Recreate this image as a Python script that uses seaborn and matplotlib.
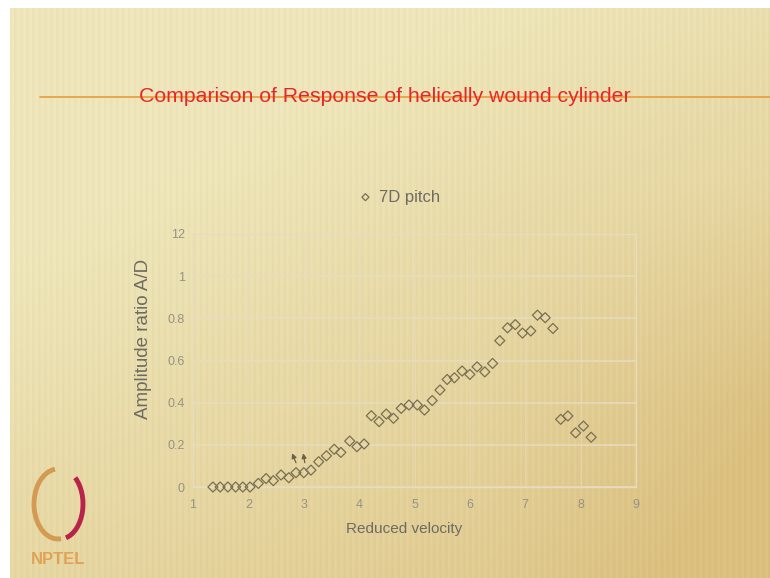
import numpy as np
import pandas as pd
import matplotlib
matplotlib.use("Agg")
import matplotlib.pyplot as plt
from matplotlib.patches import Arc
import seaborn as sns

# ---- data ----
reduced_velocity = [1.36, 1.49, 1.63, 1.77, 1.90, 2.03, 2.18, 2.32, 2.45, 2.59,
                    2.73, 2.86, 3.00, 3.13, 3.27, 3.41, 3.55, 3.67, 3.83, 3.96,
                    4.09, 4.22, 4.36, 4.49, 4.62, 4.76, 4.90, 5.05, 5.18, 5.32,
                    5.46, 5.59, 5.72, 5.86, 6.00, 6.13, 6.27, 6.41, 6.54, 6.68,
                    6.82, 6.95, 7.10, 7.22, 7.36, 7.50, 7.64, 7.77, 7.91, 8.05,
                    8.19]
amplitude_ratio = [0.0, 0.0, 0.0, 0.0, 0.0, 0.0, 0.017, 0.04, 0.03, 0.057,
                   0.044, 0.068, 0.068, 0.08, 0.12, 0.148, 0.179, 0.164, 0.218, 0.191,
                   0.204, 0.338, 0.31, 0.346, 0.326, 0.373, 0.389, 0.389, 0.365, 0.41,
                   0.46, 0.51, 0.518, 0.55, 0.534, 0.57, 0.546, 0.586, 0.694, 0.755,
                   0.77, 0.73, 0.74, 0.815, 0.803, 0.752, 0.321, 0.337, 0.257, 0.289,
                   0.236]
series_name = "7D pitch"
x_ticks = [1, 2, 3, 4, 5, 6, 7, 8, 9]
y_ticks = [0, 0.2, 0.4, 0.6, 0.8, 1.0, 1.2]
y_tick_labels = ["0", "0.2", "0.4", "0.6", "0.8", "1", "12"]
# small arrow annotations: (tail_x, tail_y, head_x, head_y)
arrows = [(2.86, 0.115, 2.79, 0.16), (3.02, 0.115, 2.99, 0.16)]

df = pd.DataFrame({"Reduced velocity": reduced_velocity,
                   "Amplitude ratio A/D": amplitude_ratio,
                   "series": series_name})

sns.set_theme(style="white")
plt.rcParams["font.family"] = ["Liberation Sans", "DejaVu Sans"]

W, H = 770, 578
fig = plt.figure(figsize=(W / 100, H / 100), dpi=100, facecolor="white")

# ---- slide background (gradient with faint vertical stripes) ----
bg = fig.add_axes([10 / W, 0, 1 - 10 / W, 1 - 8 / H], zorder=-10)
ny, nx = 290, 380
yy, xx = np.mgrid[0:1:ny * 1j, 0:1:nx * 1j]
t = np.clip(0.5 * xx + 0.7 * yy - 0.3, 0, 1)
t = t + 0.3 * np.clip((xx - 0.62) * 2.5, 0, 1) * np.clip((yy - 0.3) * 2.5, 0, 1)
t = np.clip(t, 0, 1)
top = np.array([238, 230, 186]) / 255
bot = np.array([219, 192, 128]) / 255
img = top[None, None, :] * (1 - t[..., None]) + bot[None, None, :] * t[..., None]
stripes = 0.014 * np.sin(xx * nx * 2 * np.pi / 3.0)
img = np.clip(img + stripes[..., None], 0, 1)
bg.imshow(img, aspect="auto", extent=[0, 1, 0, 1], origin="upper")
bg.set_xlim(0, 1)
bg.set_ylim(0, 1)
bg.axis("off")

# orange rule and title
fig.add_artist(plt.Line2D([40 / W, 1], [1 - 97 / H, 1 - 97 / H], color="#e9a243",
                          lw=1.3, zorder=1))
fig.text(385 / W, 1 - 97 / H, "Comparison of Response of helically wound cylinder",
         color="#e8262a", fontsize=15.3, ha="center", va="center", zorder=2)

# NPTEL logo approximation
logo = fig.add_axes([20 / W, 1 - 572 / H, 80 / W, 110 / H], zorder=-5)
logo.set_xlim(0, 80)
logo.set_ylim(0, 110)
logo.axis("off")
logo.add_patch(Arc((38, 68), 48, 70, theta1=95, theta2=275, color="#d39a52", lw=3.5))
logo.add_patch(Arc((40, 68), 46, 70, theta1=-80, theta2=60, color="#b8234a", lw=3.5))
logo.text(38, 12, "NPTEL", color="#e0a355", fontsize=12, fontweight="bold",
          ha="center", va="center")

# ---- chart ----
ax = fig.add_axes([193 / W, 1 - 487 / H, (636 - 193) / W, (487 - 234) / H])
ax.set_facecolor("none")
marker_color = "#7a7052"
sns.scatterplot(data=df, x="Reduced velocity", y="Amplitude ratio A/D",
                marker="D", s=26, facecolors="none", edgecolor=marker_color,
                linewidth=0.9, ax=ax, label=series_name, zorder=3, clip_on=False)

for (tx, ty, hx, hy) in arrows:
    ax.annotate("", xy=(hx, hy), xytext=(tx, ty),
                arrowprops=dict(arrowstyle="-|>", color="#6b6048", lw=0.9,
                                mutation_scale=7, shrinkA=0, shrinkB=0))

ax.set_xlim(1, 9)
ax.set_ylim(0, 1.2)
ax.set_xticks(x_ticks)
ax.set_xticklabels([str(v) for v in x_ticks])
ax.set_yticks(y_ticks)
ax.set_yticklabels(y_tick_labels)
grid_c = "#e7dcc0"
ax.grid(True, axis="y", color=grid_c, lw=1.1)
ax.grid(True, axis="x", color=grid_c, lw=0.8, alpha=0.6)
for sp in ax.spines.values():
    sp.set_color(grid_c)
    sp.set_linewidth(1.0)
ax.tick_params(axis="both", length=0, colors="#959384", labelsize=9)
ax.tick_params(axis="x", pad=9)
ax.tick_params(axis="y", pad=6)

ax.set_xlabel("Reduced velocity", color="#6e6c62", fontsize=11)
ax.xaxis.set_label_coords((404 - 193) / (636 - 193), -(522 - 487) / (487 - 234))
ax.set_ylabel("Amplitude ratio A/D", color="#6e6c62", fontsize=13.5)
ax.yaxis.set_label_coords(-(193 - 152) / (636 - 193), (487 - 339) / (487 - 234))

leg = ax.legend(loc="center", bbox_to_anchor=(0.462, 1.146), frameon=False,
                fontsize=12, handletextpad=0.2, handlelength=1.2, markerscale=0.7)
for txt in leg.get_texts():
    txt.set_color("#6e6c62")

fig.savefig("out.png", dpi=100, facecolor="white")
